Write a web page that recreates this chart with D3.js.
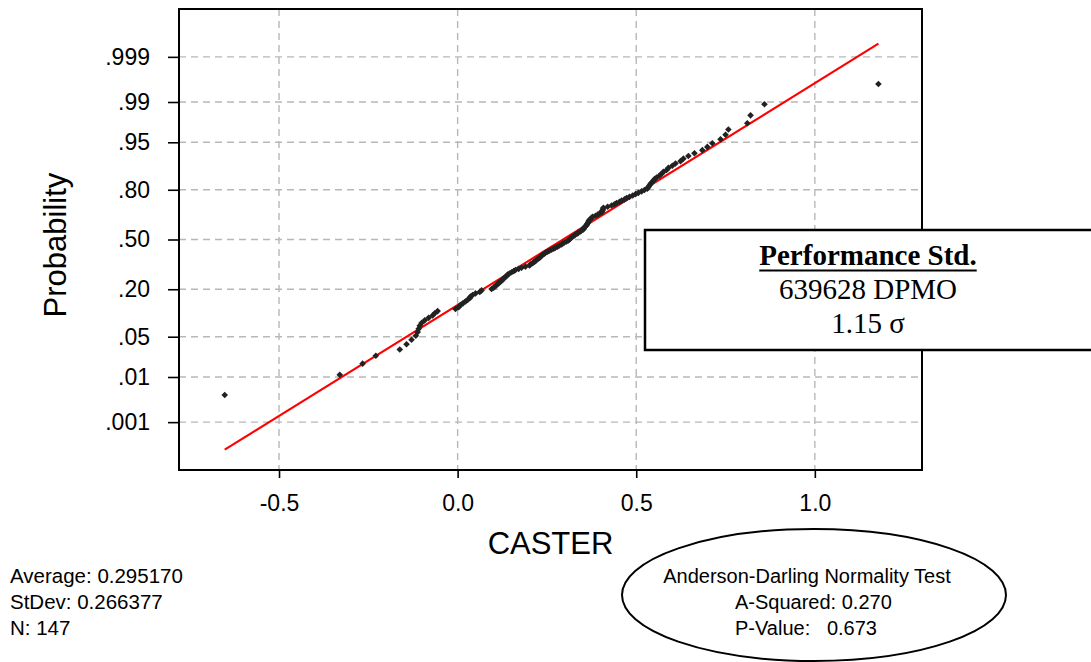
<!DOCTYPE html>
<html lang="en">
	<head>
		<meta charset="UTF-8" />
		<title>Normal Probability Plot - CASTER</title>
		<style>
			body { margin: 0; background: #fff; }
			svg { display: block; }
			text { fill: #000; }
		</style>
	</head>
	<body>
		<div id="chart"></div>
		<script src="https://d3js.org/d3.v7.min.js"></script>
		<script>
			const width = 1091;
			const height = 662;

			// sorted CASTER readings (n = 147)
			const caster = [
				-0.652, -0.330, -0.266, -0.229, -0.162, -0.143, -0.129, -0.117, -0.112, -0.109,
				-0.106, -0.101, -0.092, -0.081, -0.070, -0.064, -0.056, -0.006, 0.003, 0.008,
				0.015, 0.022, 0.028, 0.034, 0.036, 0.042, 0.050, 0.062, 0.067, 0.095,
				0.101, 0.106, 0.109, 0.115, 0.117, 0.123, 0.126, 0.129, 0.134, 0.137,
				0.140, 0.145, 0.151, 0.157, 0.162, 0.171, 0.179, 0.190, 0.201, 0.204,
				0.210, 0.213, 0.218, 0.221, 0.224, 0.229, 0.232, 0.235, 0.238, 0.243,
				0.246, 0.252, 0.257, 0.263, 0.269, 0.274, 0.280, 0.285, 0.291, 0.294,
				0.299, 0.305, 0.310, 0.313, 0.316, 0.319, 0.322, 0.327, 0.330, 0.336,
				0.338, 0.344, 0.347, 0.352, 0.353, 0.355, 0.358, 0.361, 0.362, 0.364,
				0.366, 0.367, 0.369, 0.372, 0.375, 0.378, 0.386, 0.392, 0.397, 0.403,
				0.404, 0.406, 0.407, 0.408, 0.420, 0.431, 0.439, 0.445, 0.453, 0.459,
				0.467, 0.473, 0.481, 0.490, 0.498, 0.506, 0.515, 0.523, 0.531, 0.534,
				0.537, 0.540, 0.543, 0.548, 0.551, 0.557, 0.565, 0.571, 0.576, 0.585,
				0.590, 0.601, 0.610, 0.624, 0.632, 0.646, 0.663, 0.685, 0.699, 0.713,
				0.736, 0.750, 0.758, 0.811, 0.820, 0.859, 1.178,
			];

			const probTicks = [0.001, 0.01, 0.05, 0.2, 0.5, 0.8, 0.95, 0.99, 0.999];
			const probLabels = [".001", ".01", ".05", ".20", ".50", ".80", ".95", ".99", ".999"];
			const xTicks = [-0.5, 0.0, 0.5, 1.0];

			const average = 0.29517;
			const stdev = 0.266377;
			const statLines = ["Average: 0.295170", "StDev: 0.266377", "N: 147"];
			const adLines = ["Anderson-Darling Normality Test", "A-Squared: 0.270", "P-Value:   0.673"];
			const perfLines = ["Performance Std.", "639628 DPMO", "1.15 \u03c3"];

			// inverse standard normal cdf (Acklam)
			function normInv(p) {
				const a = [-39.69683028665376, 220.9460984245205, -275.9285104469687, 138.357751867269, -30.66479806614716, 2.506628277459239];
				const b = [-54.47609879822406, 161.5858368580409, -155.6989798598866, 66.80131188771972, -13.28068155288572];
				const c = [-0.007784894002430293, -0.3223964580411365, -2.400758277161838, -2.549732539343734, 4.374664141464968, 2.938163982698783];
				const d = [0.007784695709041462, 0.3224671290700398, 2.445134137142996, 3.754408661907416];
				const pl = 0.02425;
				if (p < pl || p > 1 - pl) {
					const q = Math.sqrt(-2 * Math.log(p < pl ? p : 1 - p));
					const v = (((((c[0] * q + c[1]) * q + c[2]) * q + c[3]) * q + c[4]) * q + c[5]) /
						((((d[0] * q + d[1]) * q + d[2]) * q + d[3]) * q + 1);
					return p < pl ? v : -v;
				}
				const q = p - 0.5;
				const r = q * q;
				return (((((a[0] * r + a[1]) * r + a[2]) * r + a[3]) * r + a[4]) * r + a[5]) * q /
					(((((b[0] * r + b[1]) * r + b[2]) * r + b[3]) * r + b[4]) * r + 1);
			}

			const plot = { left: 179, right: 922, top: 9, bottom: 470 };
			const sans = "'Liberation Sans', Arial, sans-serif";
			const serif = "'Liberation Serif', 'Times New Roman', serif";

			const x = d3.scaleLinear().domain([-0.78, 1.3]).range([plot.left, plot.right]);
			const y = d3.scaleLinear().domain([-3.9, 3.9]).range([plot.bottom, plot.top]);

			const n = caster.length;
			const points = caster.map((v, i) => ({ v: v, z: normInv((i + 1 - 0.375) / (n + 0.25)) }));

			const svg = d3
				.select("#chart")
				.append("svg")
				.attr("width", width)
				.attr("height", height);

			svg.append("rect").attr("width", width).attr("height", height).attr("fill", "#fff");

			// grid
			const grid = svg.append("g").attr("stroke", "#b8b8b8").attr("stroke-width", 1.4).attr("stroke-dasharray", "7,5");
			grid.selectAll(".gx")
				.data(xTicks)
				.enter()
				.append("line")
				.attr("x1", (d) => x(d))
				.attr("x2", (d) => x(d))
				.attr("y1", plot.top)
				.attr("y2", plot.bottom);
			grid.selectAll(".gy")
				.data(probTicks)
				.enter()
				.append("line")
				.attr("x1", plot.left)
				.attr("x2", plot.right)
				.attr("y1", (d) => y(normInv(d)))
				.attr("y2", (d) => y(normInv(d)));

			// axes
			const yAxis = svg
				.append("g")
				.attr("transform", `translate(${plot.left},0)`)
				.call(
					d3.axisLeft(y)
						.tickValues(probTicks.map(normInv))
						.tickFormat((d, i) => probLabels[i])
						.tickSize(11)
						.tickPadding(18)
				);
			const xAxis = svg
				.append("g")
				.attr("transform", `translate(0,${plot.bottom})`)
				.call(
					d3.axisBottom(x)
						.tickValues(xTicks)
						.tickFormat((d) => d.toFixed(1))
						.tickSize(8)
						.tickPadding(17)
				);
			[yAxis, xAxis].forEach((g) => {
				g.select(".domain").remove();
				g.selectAll(".tick line").attr("stroke", "#000").attr("stroke-width", 1.6);
				g.selectAll(".tick text").style("font-family", sans).style("font-size", "23px").attr("fill", "#000");
			});

			// frame
			svg.append("rect")
				.attr("x", plot.left)
				.attr("y", plot.top)
				.attr("width", plot.right - plot.left)
				.attr("height", plot.bottom - plot.top)
				.attr("fill", "none")
				.attr("stroke", "#000")
				.attr("stroke-width", 2);

			// fitted line, from min to max of the data
			const ext = d3.extent(caster);
			svg.append("line")
				.attr("x1", x(ext[0]))
				.attr("y1", y((ext[0] - average) / stdev))
				.attr("x2", x(ext[1]))
				.attr("y2", y((ext[1] - average) / stdev))
				.attr("stroke", "#ff0000")
				.attr("stroke-width", 2.2);

			// points
			svg.append("g")
				.selectAll("path")
				.data(points)
				.enter()
				.append("path")
				.attr("d", d3.symbol(d3.symbolSquare, 22)())
				.attr("transform", (d) => `translate(${x(d.v)},${y(d.z)}) rotate(45)`)
				.attr("fill", "#222");

			// axis titles
			svg.append("text")
				.attr("x", (plot.left + plot.right) / 2)
				.attr("y", 554)
				.attr("text-anchor", "middle")
				.style("font-family", sans)
				.style("font-size", "31px")
				.text("CASTER");
			svg.append("text")
				.attr("transform", "translate(66,245) rotate(-90)")
				.attr("text-anchor", "middle")
				.style("font-family", sans)
				.style("font-size", "31px")
				.text("Probability");

			// summary statistics
			svg.append("g")
				.selectAll("text")
				.data(statLines)
				.enter()
				.append("text")
				.attr("x", 10)
				.attr("y", (d, i) => 583 + i * 26)
				.style("font-family", sans)
				.style("font-size", "20.5px")
				.text((d) => d);

			// Anderson-Darling ellipse
			svg.append("ellipse")
				.attr("cx", 814)
				.attr("cy", 595)
				.attr("rx", 192)
				.attr("ry", 66)
				.attr("fill", "none")
				.attr("stroke", "#000")
				.attr("stroke-width", 2);
			svg.append("g")
				.selectAll("text")
				.data(adLines)
				.enter()
				.append("text")
				.attr("x", (d, i) => (i === 0 ? 807 : 735))
				.attr("y", (d, i) => 583 + i * 26)
				.attr("text-anchor", (d, i) => (i === 0 ? "middle" : "start"))
				.style("font-family", sans)
				.style("font-size", "20px")
				.style("white-space", "pre")
				.text((d) => d);

			// performance box
			svg.append("rect")
				.attr("x", 645)
				.attr("y", 230)
				.attr("width", 470)
				.attr("height", 120)
				.attr("fill", "#fff")
				.attr("stroke", "#000")
				.attr("stroke-width", 2.5);
			const perf = svg.append("g")
				.selectAll("text")
				.data(perfLines)
				.enter()
				.append("text")
				.attr("x", 868)
				.attr("y", (d, i) => 265 + i * 34)
				.attr("text-anchor", "middle")
				.style("font-family", serif)
				.style("font-size", "29px")
				.style("font-weight", (d, i) => (i === 0 ? "bold" : "normal"))
				.text((d) => d);
			const titleLen = perf.nodes()[0].getComputedTextLength();
			svg.append("line")
				.attr("x1", 868 - titleLen / 2)
				.attr("x2", 868 + titleLen / 2)
				.attr("y1", 270.5)
				.attr("y2", 270.5)
				.attr("stroke", "#000")
				.attr("stroke-width", 2);
		</script>
	</body>
</html>
